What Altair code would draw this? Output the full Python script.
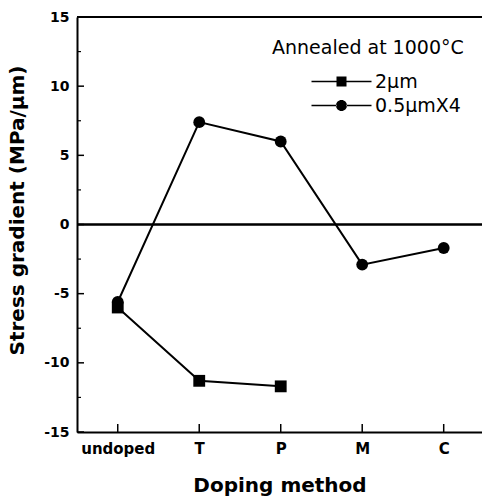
import altair as alt
import pandas as pd

categories = ["undoped", "T", "P", "M", "C"]
series_names = ["2μm", "0.5μmX4"]
values_2um = [-6.0, -11.3, -11.7, None, None]
values_05um = [-5.6, 7.4, 6.0, -2.9, -1.7]
y_major = [-15, -10, -5, 0, 5, 10, 15]
y_minor = [-12.5, -7.5, -2.5, 2.5, 7.5, 12.5]

rows = []
for i, c in enumerate(categories):
    if values_2um[i] is not None:
        rows.append({"idx": i, "cat": c, "series": series_names[0], "value": values_2um[i]})
    if values_05um[i] is not None:
        rows.append({"idx": i, "cat": c, "series": series_names[1], "value": values_05um[i]})
df = pd.DataFrame(rows)
tick_major = pd.DataFrame({"v": y_major})
tick_minor = pd.DataFrame({"v": y_minor})
tick_x = pd.DataFrame({"i": list(range(len(categories)))})

W, H = 405, 415
FONT = "DejaVu Sans"

xscale = alt.Scale(domain=[-0.5, 4.47], nice=False, zero=False)
yscale = alt.Scale(domain=[-15, 15], nice=False, zero=False)

label_expr = "[" + ",".join(f"'{c}'" for c in categories) + "][datum.value]"

x_axis = alt.Axis(
    values=list(range(len(categories))), labelExpr=label_expr, title="Doping method",
    ticks=False, grid=False, domainColor="black", domainWidth=2,
    labelFont=FONT, labelFontWeight="bold", labelFontSize=15, labelColor="black",
    labelBaseline="alphabetic", labelPadding=21,
    titleFont=FONT, titleFontWeight="bold", titleFontSize=20, titleColor="black",
    titleY=59, titleBaseline="alphabetic",
)
y_axis = alt.Axis(
    values=y_major, title="Stress gradient (MPa/μm)", ticks=False, grid=False,
    labelExpr="datum.value < 0 ? '-' + abs(datum.value) : '' + datum.value",
    domainColor="black", domainWidth=2,
    labelFont=FONT, labelFontWeight="bold", labelFontSize=14, labelColor="black",
    labelPadding=8,
    titleFont=FONT, titleFontWeight="bold", titleFontSize=20, titleColor="black",
    titleX=-54, titleY=193, titleAngle=270, titleBaseline="alphabetic", titleAlign="center",
)

base = alt.Chart(df)

lines = base.mark_line(color="black", strokeWidth=2).encode(
    x=alt.X("idx:Q", scale=xscale, axis=x_axis),
    y=alt.Y("value:Q", scale=yscale, axis=y_axis),
    detail="series:N",
)
points = base.mark_point(filled=True, size=140, color="black", opacity=1).encode(
    x=alt.X("idx:Q", scale=xscale),
    y=alt.Y("value:Q", scale=yscale),
    shape=alt.Shape("series:N", scale=alt.Scale(domain=series_names, range=["square", "circle"]), legend=None),
)

path_sq = "M-6,-0.15H-1V0.15H-6Z M1,-0.15H6V0.15H1Z M-1,-1H1V1H-1Z"
path_ci = ("M-6,-0.15H-1V0.15H-6Z M1,-0.15H6V0.15H1Z "
           "M-1.1,0A1.1,1.1,0,1,0,1.1,0A1.1,1.1,0,1,0,-1.1,0Z")

legend_layer = base.transform_filter("false").mark_point(filled=True, color="black").encode(
    shape=alt.Shape(
        "series:N",
        scale=alt.Scale(domain=series_names, range=[path_sq, path_ci]),
        legend=alt.Legend(
            orient="none", legendX=195, legendY=22, padding=0,
            title="Annealed at 1000°C", titleFont=FONT, titleFontSize=19, titleFontWeight="normal",
            titleColor="black", titlePadding=14, titleLimit=400,
            labelFont=FONT, labelFontSize=19, labelColor="black", labelFontWeight="normal",
            labelLimit=300,
            symbolSize=100, symbolOffset=60, labelOffset=24,
            symbolStrokeWidth=0, symbolFillColor="black", symbolStrokeColor="black",
            symbolOpacity=1, rowPadding=4,
        ),
    )
)

zero_line = alt.Chart(tick_x).mark_rule(color="black", strokeWidth=1.5).encode(y=alt.datum(0, scale=yscale))
top_line = alt.Chart(tick_x).mark_rule(color="black", strokeWidth=2).encode(y=alt.datum(15, scale=yscale))

ymaj = alt.Chart(tick_major).mark_rule(color="black", strokeWidth=1.5).encode(
    y=alt.Y("v:Q", scale=yscale), x=alt.value(0), x2=alt.value(7))
ymin = alt.Chart(tick_minor).mark_rule(color="black", strokeWidth=1.2).encode(
    y=alt.Y("v:Q", scale=yscale), x=alt.value(0), x2=alt.value(4))
xt = alt.Chart(tick_x).mark_rule(color="black", strokeWidth=1.5).encode(
    x=alt.X("i:Q", scale=xscale), y=alt.value(H), y2=alt.value(H - 8))

chart = alt.layer(
    zero_line, top_line, ymaj, ymin, xt, lines, points, legend_layer
).resolve_scale(shape="independent").resolve_legend(shape="independent").properties(
    width=W, height=H,
    autosize=alt.AutoSizeParams(type="none"),
    padding={"left": 77, "top": 17, "right": 0, "bottom": 66},
    background="white",
).configure_view(stroke=None)

chart.save("out.html", embed_options={"renderer": "svg", "actions": False})
